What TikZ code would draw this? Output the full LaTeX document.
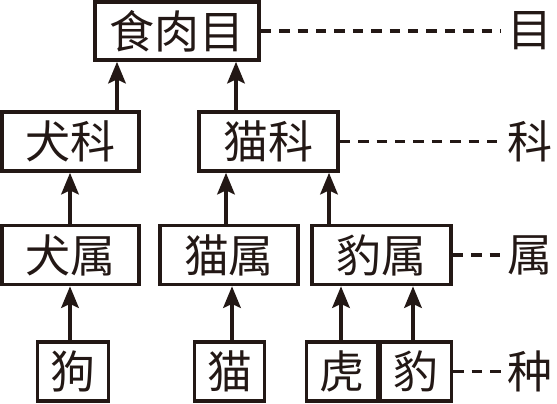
\documentclass[tikz,border=0pt]{standalone}
\usepackage{fontspec}
\newfontfamily\cjk{Noto Sans CJK SC}
\usetikzlibrary{arrows.meta}
\definecolor{inkblack}{RGB}{35,24,21}

\begin{document}
\begin{tikzpicture}[x=0.25mm, y=-0.25mm,
    taxon/.style={draw=inkblack, line width=2.6pt, inner sep=0pt, minimum height=14.75mm, text=inkblack, font=\cjk\fontsize{32}{32}\selectfont},
    rank/.style={text=inkblack, inner sep=0pt, font=\cjk\fontsize{32}{32}\selectfont},
    up/.style={draw=inkblack, line width=2.3pt, -{Stealth[length=5.4mm, width=4.4mm, inset=1mm]}},
    link/.style={draw=inkblack, line width=2.5pt, dash pattern=on 2.6mm off 2mm, shorten >=1.5mm}]
        \useasboundingbox (0,0) rectangle (557,404);

        % Order
        \node [taxon, minimum width=41mm, minimum height=14.5mm] (order) at (177,31) {食肉目};

        % Families
        \node [taxon, minimum width=34.25mm] (canidae) at (70.5,141.5) {犬科};
        \node [taxon, minimum width=34.75mm] (felidae) at (268.5,141.5) {猫科};

        % Genera
        \node [taxon, minimum width=34.25mm] (canis) at (70.5,255) {犬属};
        \node [taxon, minimum width=34.5mm] (felis) at (229,255) {猫属};
        \node [taxon, minimum width=34.75mm] (panthera) at (381.5,255) {豹属};

        % Species
        \node [taxon, minimum width=17.75mm] (dog) at (73,371.5) {狗};
        \node [taxon, minimum width=17.5mm] (cat) at (229.5,371.5) {猫};
        \node [taxon, minimum width=17.75mm] (tiger) at (342,371.5) {虎};
        \node [taxon, minimum width=17.75mm] (leopard) at (416,371.5) {豹};

        % Ranks
        \node [rank] (ordrank) at (530,31) {目};
        \node [rank] (famrank) at (530,141.5) {科};
        \node [rank] (genrank) at (530,255) {属};
        \node [rank] (sperank) at (530,371.5) {种};

        % Arrows
        \draw [up] (canidae.north -| 117,0) -- (order.south -| 117,0);
        \draw [up] (felidae.north -| 236,0) -- (order.south -| 236,0);
        \draw [up] (canis.north -| 70,0) -- (canidae.south -| 70,0);
        \draw [up] (felis.north -| 226,0) -- (felidae.south -| 226,0);
        \draw [up] (panthera.north -| 329,0) -- (felidae.south -| 329,0);
        \draw [up] (dog.north -| 70,0) -- (canis.south -| 70,0);
        \draw [up] (cat.north -| 232,0) -- (felis.south -| 232,0);
        \draw [up] (tiger.north -| 341,0) -- (panthera.south -| 341,0);
        \draw [up] (leopard.north -| 413,0) -- (panthera.south -| 413,0);

        % Dashed links
        \draw [link] (order.east) -- (ordrank.west);
        \draw [link] (felidae.east) -- (famrank.west);
        \draw [link] (panthera.east) -- (genrank.west);
        \draw [link] (leopard.east) -- (sperank.west);
    \end{tikzpicture}
\end{document}
